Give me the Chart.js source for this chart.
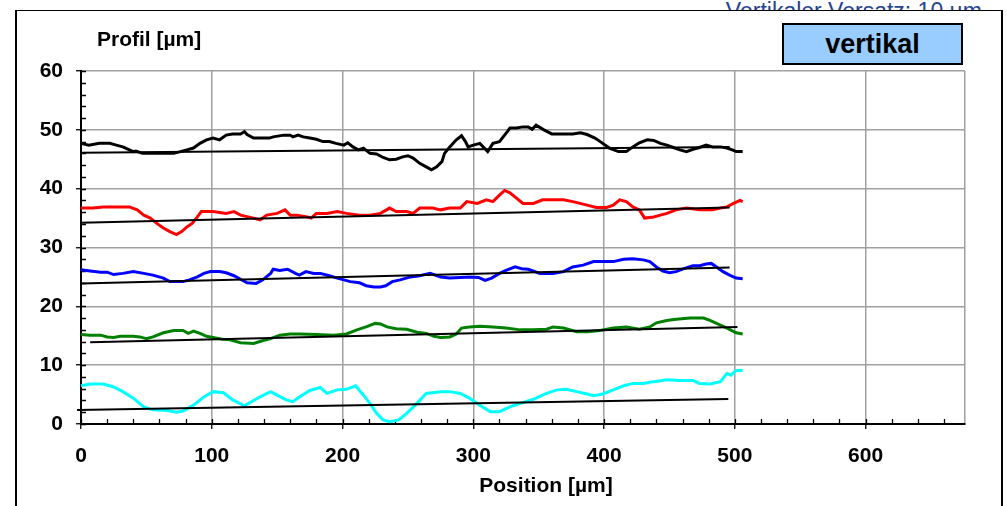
<!DOCTYPE html>
<html>
<head>
<meta charset="utf-8">
<script src="https://cdn.jsdelivr.net/npm/chart.js@4/dist/chart.umd.min.js"></script>
<style>
  html, body { margin: 0; padding: 0; width: 1007px; height: 506px; overflow: hidden; background: #fff; }
  #offset { position: absolute; right: 25px; top: 0; font: 23px 'Liberation Sans', Arial, sans-serif; color: #25438f; line-height: 23px; white-space: nowrap; }
  #frame { position: absolute; left: 15px; top: 10px; width: 984px; height: 600px; border-left: 2px solid #000; border-right: 2px solid #000; border-top: 1.5px solid #000; background: #fff; }
  #chart { position: absolute; left: 0; top: 0; }
  .lbl { position: absolute; font: bold 21px 'Liberation Sans', Arial, sans-serif; color: #000; line-height: 21px; white-space: nowrap; }
  #ytitle { left: 97px; top: 28px; }
  #xtitle { left: 546px; top: 474px; transform: translateX(-50%); }
  #mode { position: absolute; left: 782px; top: 23px; width: 177px; height: 38px; border: 2px solid #000; background: #99ccff;
          font: bold 27px 'Liberation Sans', Arial, sans-serif; display: flex; align-items: center; justify-content: center; }
</style>
</head>
<body>
<div id="offset">Vertikaler Versatz: 10 µm</div>
<div id="frame"></div>
<canvas id="chart" width="1007" height="506"></canvas>
<div class="lbl" id="ytitle">Profil [µm]</div>
<div class="lbl" id="xtitle">Position [µm]</div>
<div id="mode">vertikal</div>
<script>
// Profile traces, [position µm, height µm], each shifted by 10 µm
const profilSchwarz = [
  [0,47.7],[6,47.4],[14,47.7],[22,47.7],[27,47.4],[32,47.1],[37,46.6],[40,46.3],[42,46.4],[47,46.0],
  [53,46.0],[60,46.0],[71,46.0],[76,46.3],[81,46.6],[86,46.9],[91,47.7],[96,48.3],[101,48.6],[106,48.3],
  [111,49.1],[116,49.3],[122,49.3],[125,49.7],[127,49.2],[132,48.6],[139,48.6],[144,48.6],[147,48.8],[155,49.1],
  [160,49.1],[162,48.8],[166,49.1],[170,48.8],[175,48.6],[180,48.4],[185,48.0],[190,48.0],[195,47.7],[201,47.4],
  [204,47.8],[208,47.1],[212,46.6],[216,46.9],[221,46.0],[226,45.9],[231,45.3],[236,44.9],[241,45.0],[246,45.4],
  [250,45.6],[254,45.2],[259,44.3],[264,43.7],[268,43.2],[272,43.7],[276,44.6],[278,46.0],[282,47.1],[287,48.3],
  [291,49.0],[294,48.0],[296,47.1],[300,47.4],[305,47.7],[311,46.3],[315,47.7],[320,48.0],[326,49.7],[328,50.3],
  [333,50.3],[338,50.5],[342,50.5],[345,50.1],[348,50.8],[354,50.0],[360,49.3],[366,49.3],[376,49.3],[382,49.5],
  [387,49.2],[393,48.6],[399,47.7],[404,46.9],[411,46.3],[417,46.3],[422,47.1],[427,47.8],[433,48.3],[438,48.2],
  [443,47.7],[448,47.4],[453,47.0],[458,46.6],[463,46.3],[468,46.7],[473,47.0],[478,47.4],[483,47.1],[489,47.1],
  [494,46.9],[499,46.5],[501,46.3],[506,46.3]
];
const profilRot = [
  [0,36.7],[9,36.7],[17,36.9],[25,36.9],[32,36.9],[37,36.9],[43,36.4],[48,35.5],[53,35.0],[58,34.1],
  [63,33.3],[68,32.7],[73,32.2],[77,32.7],[81,33.5],[85,34.1],[89,35.2],[92,36.1],[101,36.1],[111,35.8],
  [117,36.1],[122,35.5],[132,35.0],[137,34.7],[142,35.5],[150,35.8],[156,36.4],[160,35.5],[165,35.5],[173,35.2],
  [176,35.0],[180,35.8],[188,35.8],[196,36.1],[203,35.8],[213,35.5],[221,35.5],[229,35.8],[236,36.7],[241,36.1],
  [249,36.1],[254,35.8],[259,36.7],[269,36.7],[275,36.4],[282,36.7],[290,36.7],[295,37.8],[303,37.5],[310,38.1],
  [315,37.8],[320,38.9],[324,39.7],[328,39.3],[333,38.4],[338,37.5],[346,37.5],[353,38.1],[361,38.1],[369,38.1],
  [376,37.8],[387,37.2],[394,36.8],[402,36.8],[407,37.2],[412,38.1],[417,37.8],[422,36.9],[427,36.4],[431,35.0],
  [438,35.2],[443,35.5],[448,35.8],[455,36.4],[463,36.7],[473,36.4],[483,36.4],[489,36.7],[494,36.9],[499,37.5],
  [504,38.0],[506,37.8]
];
const profilBlau = [
  [0,26.2],[7,26.0],[15,25.8],[20,25.8],[25,25.4],[32,25.6],[40,25.9],[48,25.6],[55,25.3],[63,24.8],
  [68,24.2],[78,24.2],[83,24.5],[89,25.0],[94,25.6],[99,25.9],[106,25.9],[111,25.7],[117,25.2],[122,24.6],
  [127,24.0],[134,23.9],[139,24.5],[145,25.6],[147,26.3],[152,26.1],[158,26.3],[164,25.6],[167,25.3],[172,25.9],
  [178,25.6],[183,25.6],[190,25.2],[196,24.8],[201,24.5],[206,24.2],[213,24.0],[218,23.5],[224,23.3],[229,23.3],
  [233,23.5],[238,24.2],[244,24.5],[252,25.0],[259,25.2],[267,25.6],[275,25.0],[282,24.8],[290,24.9],[297,25.0],
  [304,24.9],[309,24.4],[314,24.8],[320,25.6],[325,26.1],[332,26.7],[337,26.4],[342,26.3],[351,25.6],[361,25.6],
  [369,25.9],[376,26.7],[384,27.0],[392,27.6],[399,27.6],[407,27.6],[415,28.0],[422,28.1],[430,27.9],[435,27.6],
  [440,26.7],[445,26.0],[450,25.7],[455,25.9],[461,26.4],[468,26.9],[473,26.9],[478,27.2],[482,27.3],[486,26.7],
  [491,25.9],[496,25.3],[501,24.8],[506,24.7]
];
const profilGruen = [
  [0,15.2],[7,15.1],[15,15.1],[20,14.8],[25,14.7],[30,14.9],[40,14.9],[45,14.8],[50,14.5],[55,14.8],
  [63,15.5],[71,15.9],[78,15.9],[82,15.4],[86,15.8],[91,15.4],[96,14.9],[101,14.7],[108,14.4],[114,14.3],
  [122,13.8],[132,13.7],[138,14.1],[145,14.5],[152,15.1],[160,15.3],[167,15.3],[180,15.2],[193,15.1],[203,15.3],
  [211,16.0],[218,16.5],[225,17.1],[229,17.0],[234,16.5],[241,16.2],[249,16.1],[257,15.6],[264,15.4],[270,14.9],
  [275,14.7],[282,14.8],[287,15.3],[291,16.3],[297,16.5],[305,16.6],[315,16.5],[325,16.3],[336,16.0],[346,16.0],
  [356,16.1],[361,16.5],[369,16.3],[379,15.7],[387,15.7],[397,15.9],[407,16.3],[417,16.5],[427,16.1],[435,16.5],
  [440,17.2],[448,17.6],[455,17.8],[466,18.0],[476,18.0],[481,17.6],[486,17.1],[494,16.3],[501,15.5],[506,15.3]
];
const profilCyan = [
  [0,6.5],[7,6.8],[17,6.8],[25,6.3],[32,5.5],[40,4.4],[48,2.9],[55,2.4],[66,2.3],[73,2.0],
  [78,2.2],[86,3.2],[94,4.6],[101,5.5],[109,5.3],[116,4.1],[125,3.1],[132,4.0],[137,4.6],[145,5.5],
  [150,4.9],[157,4.1],[162,3.8],[167,4.6],[175,5.7],[183,6.2],[188,5.2],[196,5.8],[203,5.9],[210,6.5],
  [216,4.9],[221,3.5],[226,1.8],[231,0.7],[236,0.4],[243,0.7],[249,1.8],[256,3.3],[264,5.2],[275,5.5],
  [282,5.5],[290,5.2],[297,4.4],[305,3.2],[313,2.1],[320,2.1],[328,2.9],[336,3.5],[346,4.2],[356,5.2],
  [364,5.8],[371,5.9],[379,5.5],[387,5.1],[392,4.8],[399,5.1],[407,5.8],[415,6.5],[422,6.9],[430,6.9],
  [438,7.2],[448,7.5],[458,7.4],[468,7.4],[473,6.9],[481,6.8],[489,7.2],[494,8.6],[497,8.3],[501,9.1],
  [506,9.1]
];
// Linear fits, start and end point of each
const trendSchwarz = [[0,46.1],[496,47.1]];
const trendRot     = [[0,34.2],[496,36.8]];
const trendBlau    = [[0,23.9],[496,26.6]];
const trendGruen   = [[7,13.9],[502,16.5]];
const trendCyan    = [[-3,2.4],[495,4.25]];

// Axis ranges and label steps
const xMax = 676, xMajor = 100, xMinor = 20;
const yMax = 60, yMajor = 10, yMinor = 2;

const toXY = arr => arr.map(([x, y]) => ({x, y}));
const profile = (data, color) => ({ data: toXY(data), borderColor: color, borderWidth: 3, showLine: true, pointRadius: 0, tension: 0, clip: false });
const trend = data => ({ data: toXY(data), borderColor: '#000', borderWidth: 2, showLine: true, pointRadius: 0, tension: 0, clip: false });

const GRID = '#a0a0a0';

// Short inward tick marks at every minor step
const innerTicks = {
  id: 'innerTicks',
  beforeDatasetsDraw(chart) {
    const {ctx, chartArea, scales: {x, y}} = chart;
    ctx.save();
    ctx.strokeStyle = '#000';
    ctx.lineWidth = 1.3;
    ctx.beginPath();
    x.ticks.forEach(t => {
      if (t.value % xMinor !== 0) return;
      const px = Math.round(x.getPixelForValue(t.value)) + 0.5;
      ctx.moveTo(px, chartArea.bottom);
      ctx.lineTo(px, chartArea.bottom - 5);
    });
    y.ticks.forEach(t => {
      if (t.value % yMinor !== 0) return;
      const py = Math.round(y.getPixelForValue(t.value)) + 0.5;
      ctx.moveTo(chartArea.left, py);
      ctx.lineTo(chartArea.left + 5, py);
    });
    ctx.stroke();
    ctx.restore();
  }
};

Chart.defaults.font.family = "'Liberation Sans', Arial, sans-serif";
Chart.defaults.font.size = 21;
Chart.defaults.font.weight = 'bold';
Chart.defaults.color = '#000';

new Chart(document.getElementById('chart'), {
  type: 'scatter',
  data: {
    datasets: [
      trend(trendSchwarz), trend(trendRot), trend(trendBlau), trend(trendGruen), trend(trendCyan),
      profile(profilSchwarz, '#000000'),
      profile(profilRot, '#ff0000'),
      profile(profilBlau, '#0000ff'),
      profile(profilGruen, '#008000'),
      profile(profilCyan, '#00ffff')
    ]
  },
  options: {
    responsive: false,
    animation: false,
    devicePixelRatio: 1,
    layout: { padding: { left: 0, top: 71, right: 42, bottom: 32 } },
    plugins: { legend: { display: false }, tooltip: { enabled: false } },
    scales: {
      x: {
        type: 'linear', min: 0, max: xMax,
        afterFit: s => { s.height = 50; },
        afterBuildTicks: s => {
          const t = [];
          for (let v = 0; v < xMax; v += xMinor) t.push({value: v});
          t.push({value: xMax});
          s.ticks = t;
        },
        ticks: {
          autoSkip: false, maxRotation: 0, padding: 15,
          callback: v => (v % xMajor === 0 ? String(v) : '')
        },
        grid: {
          tickLength: 5, lineWidth: 1.5,
          color: c => (c.tick && (c.tick.value % xMajor === 0 || c.tick.value === xMax) ? GRID : 'rgba(0,0,0,0)'),
          tickColor: c => (c.tick && c.tick.value % xMajor === 0 ? '#000' : 'rgba(0,0,0,0)'),
          tickWidth: 1.3
        },
        border: { color: '#000', width: 2 }
      },
      y: {
        type: 'linear', min: 0, max: yMax,
        afterFit: s => { s.width = 81; },
        ticks: {
          stepSize: yMinor, autoSkip: false, padding: 13,
          callback: v => (v % yMajor === 0 ? String(v) : '')
        },
        grid: {
          tickLength: 5, lineWidth: 1.5,
          color: c => (c.tick && c.tick.value % yMajor === 0 ? GRID : 'rgba(0,0,0,0)'),
          tickColor: c => (c.tick && c.tick.value % yMajor === 0 ? '#000' : 'rgba(0,0,0,0)'),
          tickWidth: 1.3
        },
        border: { color: '#000', width: 2 }
      }
    }
  },
  plugins: [innerTicks]
});
</script>
</body>
</html>
